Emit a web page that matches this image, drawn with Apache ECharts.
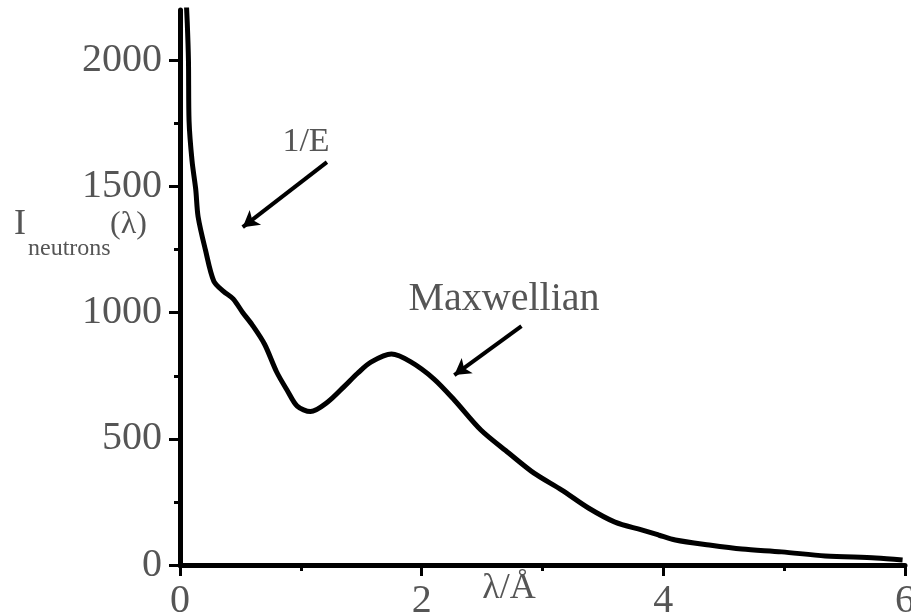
<!DOCTYPE html>
<html>
<head>
<meta charset="utf-8">
<script src="https://cdn.jsdelivr.net/npm/echarts@6/dist/echarts.min.js"></script>
<style>
html,body{margin:0;padding:0;background:#fff;}
#chart{width:911px;height:613px;}
</style>
</head>
<body>
<div id="chart"></div>
<script>
// wavelength λ (Å)
var lambdaValues = [0.045, 0.06, 0.07, 0.075, 0.10, 0.13, 0.15, 0.21, 0.28, 0.36, 0.44, 0.52, 0.60, 0.70, 0.80, 0.89, 0.97, 1.08, 1.22, 1.36, 1.47, 1.58, 1.75, 1.91, 2.10, 2.27, 2.49, 2.72, 2.93, 3.16, 3.38, 3.60, 3.82, 3.96, 4.10, 4.38, 4.65, 4.98, 5.34, 5.76, 5.98];
// neutron intensity
var intensityValues = [2300, 2150, 2000, 1760, 1600, 1490, 1380, 1250, 1125, 1085, 1055, 1000, 950, 875, 765, 690, 630, 608, 645, 708, 760, 804, 836, 805, 738, 654, 535, 444, 364, 297, 226, 170, 139, 119, 99, 79, 63, 52, 36, 28, 20];
var yMajorTicks = [0, 500, 1000, 1500, 2000];
var yMinorTicks = [250, 750, 1250, 1750];
var xTickLabels = ['0', '2', '4', '6'];
// annotation arrows: [tail λ, tail I] -> [head λ, head I]
var arrowOneOverE = [[1.216, 1597], [0.519, 1339]];
var arrowMaxwellian = [[2.826, 947], [2.27, 753]];

var seriesData = lambdaValues.map(function (x, i) { return [x, intensityValues[i]]; });
var FONT = '"Liberation Serif", "DejaVu Serif", serif';
var TXT = '#555';

var chart = echarts.init(document.getElementById('chart'), null, {renderer: 'canvas'});
chart.setOption({
  animation: false,
  backgroundColor: '#fff',
  grid: {left: 180, right: 6, top: 10, bottom: 48, containLabel: false, outerBoundsMode: 'none'},
  xAxis: {
    type: 'value', min: 0, max: 6, interval: 2,
    axisLine: {show: true, onZero: false, lineStyle: {color: '#000', width: 5}},
    axisTick: {show: true, length: 11, lineStyle: {color: '#000', width: 3}},
    minorTick: {show: true, splitNumber: 2, length: 6, lineStyle: {color: '#000', width: 3}},
    splitLine: {show: false},
    axisLabel: {
      color: TXT, fontFamily: FONT, fontSize: 40, margin: 16,
      formatter: function (v) { var i = v / 2; return xTickLabels[i] !== undefined ? xTickLabels[i] : ''; }
    }
  },
  yAxis: [{
    type: 'value', min: 0, max: 2200, position: 'left',
    axisLine: {show: true, onZero: false, lineStyle: {color: '#000', width: 5}},
    axisTick: {show: true, length: 11, customValues: yMajorTicks, lineStyle: {color: '#000', width: 3}},
    splitLine: {show: false},
    axisLabel: {
      color: TXT, fontFamily: FONT, fontSize: 40, margin: 18, customValues: yMajorTicks,
      formatter: function (v) { return String(v); }
    }
  }, {
    type: 'value', min: 0, max: 2200, position: 'left', offset: 0,
    axisLine: {show: false},
    axisTick: {show: true, length: 6, customValues: yMinorTicks, lineStyle: {color: '#000', width: 3}},
    splitLine: {show: false},
    axisLabel: {show: false}
  }],
  series: [{
    type: 'line',
    data: seriesData,
    showSymbol: false,
    symbol: 'none',
    smooth: 0.3,
    clip: true,
    lineStyle: {color: '#000', width: 5},
    silent: true,
    markLine: {
      silent: true,
      symbol: ['none', 'arrow'],
      symbolSize: [14, 16],
      label: {show: false},
      lineStyle: {color: '#000', width: 4, type: 'solid'},
      emphasis: {disabled: true},
      data: [
        [{coord: arrowOneOverE[0]}, {coord: arrowOneOverE[1]}],
        [{coord: arrowMaxwellian[0]}, {coord: arrowMaxwellian[1]}]
      ]
    }
  }],
  graphic: [
    {type: 'text', x: 306, y: 142, style: {text: '1/E', font: '34px ' + FONT, fill: TXT, textAlign: 'center', textVerticalAlign: 'middle'}},
    {type: 'text', x: 504, y: 299, style: {text: 'Maxwellian', font: '40px ' + FONT, fill: TXT, textAlign: 'center', textVerticalAlign: 'middle'}},
    {type: 'text', x: 509, y: 589, style: {text: 'λ/Å', font: '36px ' + FONT, fill: TXT, textAlign: 'center', textVerticalAlign: 'middle'}},
    {type: 'text', x: 14, y: 225, style: {text: 'I', font: '36px ' + FONT, fill: TXT, textAlign: 'left', textVerticalAlign: 'middle'}},
    {type: 'text', x: 28, y: 249, style: {text: 'neutrons', font: '24px ' + FONT, fill: TXT, textAlign: 'left', textVerticalAlign: 'middle'}},
    {type: 'text', x: 110, y: 225, style: {text: '(λ)', font: '32px ' + FONT, fill: TXT, textAlign: 'left', textVerticalAlign: 'middle'}}
  ]
});
</script>
</body>
</html>
